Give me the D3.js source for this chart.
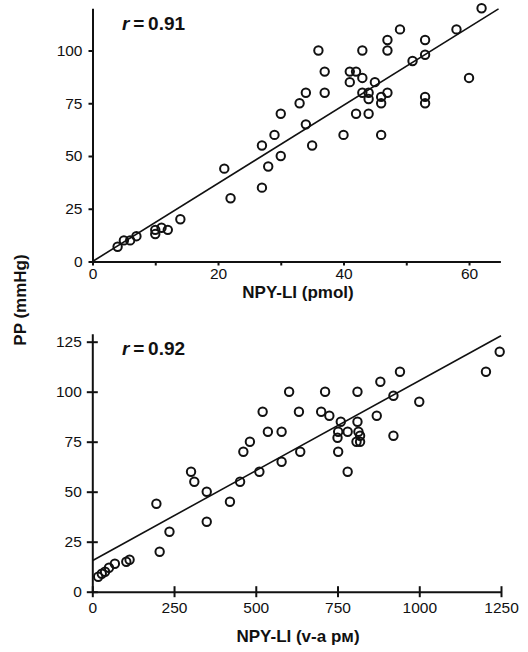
<!DOCTYPE html>
<html>
<head>
    <title>PP vs NPY-LI</title>
    <script src="https://d3js.org/d3.v7.min.js"></script>
    <style>
        body { margin: 0; background: #fff; }
        text { font-family: "Liberation Sans", Arial, sans-serif; fill: #111; }
    </style>
</head>
<body>
    <div id="chart"></div>

    <script>
        // top panel: NPY-LI (pmol) vs PP
        var topX = [4, 5, 6, 7, 10, 10, 11, 12, 14, 21, 22, 27, 27, 28, 29, 30, 30, 33, 34, 34,
                    35, 36, 37, 37, 40, 41, 41, 42, 42, 43, 43, 43, 44, 44, 44, 45, 46, 46, 46,
                    47, 47, 47, 49, 51, 53, 53, 53, 53, 58, 60, 62];
        var topY = [7, 10, 10, 12, 15, 13, 16, 15, 20, 44, 30, 35, 55, 45, 60, 50, 70, 75, 80, 65,
                    55, 100, 90, 80, 60, 90, 85, 90, 70, 100, 87, 80, 80, 77, 70, 85, 78, 75, 60,
                    105, 100, 80, 110, 95, 105, 98, 78, 75, 110, 87, 120];
        var topFitX = [0, 64.7];
        var topFitY = [0, 119.7];
        var topR = "0.91";

        // bottom panel: NPY-LI (v-a pM) vs PP
        var botX = [18, 29, 39, 51, 69, 104, 114, 196, 206, 236, 302, 312, 350, 350, 421, 452,
                    462, 482, 511, 521, 537, 579, 579, 602, 632, 636, 700, 712, 725, 750, 752,
                    752, 760, 781, 781, 808, 811, 811, 814, 819, 819, 870, 881, 921, 921, 941,
                    1000, 1204, 1246];
        var botY = [7.5, 9, 10, 12, 14, 15, 16, 44, 20, 30, 60, 55, 50, 35, 45, 55,
                    70, 75, 60, 90, 80, 80, 65, 100, 90, 70, 90, 100, 88, 77, 80,
                    70, 85, 80, 60, 75, 100, 85, 80, 78, 75, 88, 105, 98, 78, 110,
                    95, 110, 120];
        var botFitX = [0, 1250];
        var botFitY = [15.5, 128];
        var botR = "0.92";

        // tick values
        var topXTicks = [0, 10, 20, 30, 40, 50, 60];
        var topYTicks = [0, 25, 50, 75, 100];
        var botXTicks = [0, 250, 500, 750, 1000, 1250];
        var botYTicks = [0, 25, 50, 75, 100, 125];

        var svg = d3.select("#chart")
            .append("svg")
            .attr("width", 528)
            .attr("height", 652);

        function panel(cfg) {
            var g = svg.append("g");
            var x = d3.scaleLinear().domain(cfg.xDomain).range(cfg.xRange);
            var y = d3.scaleLinear().domain(cfg.yDomain).range(cfg.yRange);

            // regression line
            g.append("line")
                .attr("x1", x(cfg.fitX[0])).attr("y1", y(cfg.fitY[0]))
                .attr("x2", x(cfg.fitX[1])).attr("y2", y(cfg.fitY[1]))
                .attr("stroke", "#111")
                .attr("stroke-width", 1.6);

            // points
            g.selectAll("circle")
                .data(cfg.xs.map(function(d, i) { return [d, cfg.ys[i]]; }))
                .enter()
                .append("circle")
                .attr("cx", function(d) { return x(d[0]); })
                .attr("cy", function(d) { return y(d[1]); })
                .attr("r", 4.2)
                .attr("fill", "none")
                .attr("stroke", "#111")
                .attr("stroke-width", 2);

            // axes
            var xa = g.append("g")
                .attr("transform", "translate(0," + y(0) + ")")
                .call(d3.axisBottom(x)
                    .tickValues(cfg.xTicks)
                    .tickFormat(cfg.xFormat)
                    .tickSize(cfg.tick)
                    .tickSizeOuter(0)
                    .tickPadding(cfg.xPad));
            var ya = g.append("g")
                .attr("transform", "translate(" + x(0) + ",0)")
                .call(d3.axisLeft(y)
                    .tickValues(cfg.yTicks)
                    .tickSize(cfg.tick)
                    .tickSizeOuter(0)
                    .tickPadding(cfg.yPad));

            [xa, ya].forEach(function(a) {
                a.select(".domain").attr("stroke", "#111").attr("stroke-width", 2);
                a.selectAll(".tick line").attr("stroke", "#111").attr("stroke-width", 2);
                a.selectAll(".tick text")
                    .attr("font-size", 15.5)
                    .attr("font-family", "Liberation Sans, Arial, sans-serif")
                    .attr("fill", "#111");
            });
            if (cfg.cross) {
                xa.selectAll(".tick line").attr("y1", -cfg.tick);
                ya.selectAll(".tick line").attr("x1", cfg.tick);
            }

            // r value
            var t = g.append("text")
                .attr("x", 122)
                .attr("y", cfg.rY)
                .attr("font-size", 19)
                .attr("font-weight", "bold");
            t.append("tspan").attr("font-style", "italic").text("r");
            t.append("tspan").text("\u2009=\u2009" + cfg.r);

            // x title
            g.append("text")
                .attr("x", 298)
                .attr("y", cfg.titleY)
                .attr("text-anchor", "middle")
                .attr("font-size", 17)
                .attr("font-weight", "bold")
                .text(cfg.title);
        }

        panel({
            xs: topX, ys: topY, fitX: topFitX, fitY: topFitY, r: topR,
            xDomain: [0, 65], xRange: [92.5, 500.4],
            yDomain: [0, 120], yRange: [261.5, 8.3],
            xTicks: topXTicks, yTicks: topYTicks,
            xFormat: function(d) { return d % 20 === 0 ? d : ""; },
            tick: 4, xPad: 2, yPad: 6, cross: false,
            rY: 30, titleY: 298, title: "NPY-LI (pmol)"
        });

        panel({
            xs: botX, ys: botY, fitX: botFitX, fitY: botFitY, r: botR,
            xDomain: [0, 1250], xRange: [92.3, 501],
            yDomain: [0, 129], yRange: [591.7, 333.7],
            xTicks: botXTicks, yTicks: botYTicks,
            xFormat: function(d) { return d; },
            tick: 5.5, xPad: 5, yPad: 5, cross: true,
            rY: 355, titleY: 642, title: "NPY-LI (v-a p\u043c)"
        });

        // shared y title
        svg.append("text")
            .attr("transform", "translate(26,300) rotate(-90)")
            .attr("text-anchor", "middle")
            .attr("font-size", 17)
            .attr("font-weight", "bold")
            .text("PP (mmHg)");
    </script>
</body>
</html>
